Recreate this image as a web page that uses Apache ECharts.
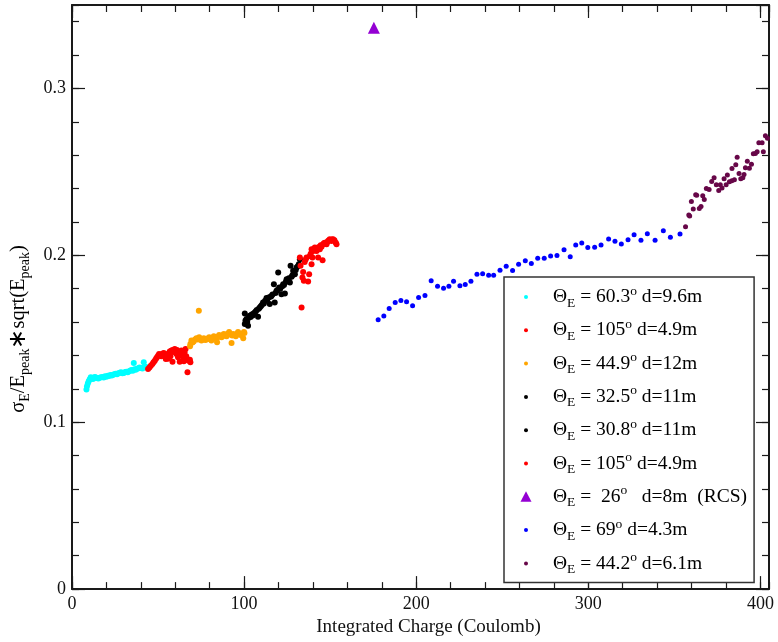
<!DOCTYPE html>
<html><head><meta charset="utf-8">
<script src="https://cdn.jsdelivr.net/npm/echarts@6/dist/echarts.min.js"></script>
<style>html,body{margin:0;padding:0;background:#fff}#c{width:778px;height:642px}</style>
</head><body><div id="c"></div>
<script>
// ---- data ----
const xTickValues = [0, 100, 200, 300, 400];
const yTickValues = [0, 0.1, 0.2, 0.3];
const seriesNames = ['s1','s2','s3','s4','s5','s6','s7','s8','s9'];
const legendLabels = [
  '{m|Θ}{s|E}{m| = 60.3}{p|o}{m| d=9.6m}',
  '{m|Θ}{s|E}{m| = 105}{p|o}{m| d=4.9m}',
  '{m|Θ}{s|E}{m| = 44.9}{p|o}{m| d=12m}',
  '{m|Θ}{s|E}{m| = 32.5}{p|o}{m| d=11m}',
  '{m|Θ}{s|E}{m| = 30.8}{p|o}{m| d=11m}',
  '{m|Θ}{s|E}{m| = 105}{p|o}{m| d=4.9m}',
  '{m|Θ}{s|E}{m| =  26}{p|o}{m|   d=8m  (RCS)}',
  '{m|Θ}{s|E}{m| = 69}{p|o}{m| d=4.3m}',
  '{m|Θ}{s|E}{m| = 44.2}{p|o}{m| d=6.1m}'
];
const theta603 = [[8.4,0.1196],[8.7,0.1216],[9.2,0.1232],[9.7,0.1246],[10.3,0.1258],[10.9,0.1270],[11.5,0.1262],[12.2,0.1259],[12.8,0.1268],[13.4,0.1271],[14.0,0.1266],[14.5,0.1265],[15.3,0.1262],[16.1,0.1267],[16.9,0.1270],[17.7,0.1271],[18.4,0.1268],[19.2,0.1275],[20.0,0.1273],[20.8,0.1279],[21.5,0.1277],[22.3,0.1283],[23.1,0.1280],[23.9,0.1285],[24.6,0.1288],[25.4,0.1291],[26.2,0.1287],[27.0,0.1293],[27.8,0.1296],[28.5,0.1299],[29.3,0.1294],[30.1,0.1295],[30.9,0.1301],[31.6,0.1303],[32.4,0.1300],[33.2,0.1305],[34.0,0.1310],[34.7,0.1313],[35.3,0.1308],[35.9,0.1355],[36.4,0.1318],[37.0,0.1315],[37.8,0.1320],[38.6,0.1323],[39.3,0.1328],[40.1,0.1325],[40.9,0.1322],[41.7,0.1359],[42.0,0.1330],[42.4,0.1329],[43.2,0.1331]];
const theta105a = [[44.2,0.1319],[45.0,0.1328],[45.8,0.1338],[46.7,0.1349],[47.4,0.1360],[48.1,0.1369],[48.8,0.1380],[49.4,0.1389],[50.0,0.1398],[50.6,0.1409],[51.2,0.1402],[51.9,0.1395],[52.5,0.1410],[53.3,0.1415],[53.9,0.1400],[54.5,0.1379],[55.3,0.1402],[55.8,0.1380],[56.0,0.1412],[56.8,0.1423],[57.2,0.1395],[57.6,0.1428],[58.4,0.1433],[58.4,0.1363],[59.1,0.1420],[59.7,0.1439],[60.2,0.1425],[60.7,0.1409],[61.0,0.1432],[61.6,0.1389],[62.1,0.1410],[62.6,0.1419],[62.6,0.1363],[63.1,0.1400],[63.6,0.1429],[64.0,0.1415],[64.4,0.1400],[64.9,0.1385],[65.0,0.1365],[65.4,0.1419],[66.0,0.1439],[66.4,0.1395],[66.7,0.1379],[67.1,0.1299],[67.4,0.1372],[68.0,0.1369],[68.5,0.1375],[68.8,0.1359]];
const theta449 = [[68.6,0.1455],[68.8,0.1469],[69.4,0.1489],[70.0,0.1478],[70.7,0.1483],[71.5,0.1495],[72.3,0.1503],[73.1,0.1495],[73.7,0.1668],[73.9,0.1509],[74.5,0.1498],[75.2,0.1489],[75.9,0.1497],[76.6,0.1503],[77.4,0.1492],[78.1,0.1495],[78.9,0.1502],[79.7,0.1509],[80.4,0.1497],[81.0,0.1489],[81.7,0.1505],[82.4,0.1515],[83.1,0.1500],[83.9,0.1503],[84.3,0.1479],[84.7,0.1512],[85.5,0.1523],[86.2,0.1512],[86.9,0.1509],[87.5,0.1520],[88.2,0.1529],[89.0,0.1518],[89.8,0.1515],[90.5,0.1530],[91.3,0.1541],[92.0,0.1525],[92.7,0.1475],[93.1,0.1520],[93.6,0.1529],[94.4,0.1522],[95.2,0.1515],[95.8,0.1530],[96.5,0.1541],[97.2,0.1532],[97.9,0.1523],[98.6,0.1530],[99.5,0.1503],[99.9,0.1541],[100.2,0.1535]];
const theta325 = [[100.4,0.1588],[100.4,0.1652],[100.8,0.1610],[101.4,0.1618],[101.8,0.1600],[102.3,0.1578],[102.6,0.1625],[103.3,0.1638],[103.8,0.1630],[104.4,0.1645],[105.0,0.1640],[105.5,0.1652],[106.2,0.1658],[106.8,0.1665],[107.4,0.1672],[108.1,0.1632],[108.5,0.1680],[109.1,0.1688],[109.7,0.1695],[110.3,0.1702],[111.0,0.1718],[111.5,0.1712],[112.2,0.1728],[113.0,0.1744],[113.5,0.1735],[114.2,0.1748],[114.9,0.1708],[115.4,0.1752],[115.9,0.1757],[116.5,0.1765]];
const theta308 = [[117.3,0.1827],[117.8,0.1718],[118.3,0.1775],[118.8,0.1787],[119.3,0.1792],[119.8,0.1897],[120.4,0.1807],[121.0,0.1800],[121.7,0.1767],[122.2,0.1815],[122.7,0.1827],[123.2,0.1822],[123.7,0.1771],[124.2,0.1840],[124.7,0.1857],[125.3,0.1850],[126.0,0.1862],[126.6,0.1837],[127.0,0.1937],[127.6,0.1871],[128.1,0.1880],[128.5,0.1907],[129.0,0.1895],[129.5,0.1887],[130.0,0.1912],[130.5,0.1927],[131.2,0.1935],[131.8,0.1947],[132.4,0.1977]];
const theta105b = [[132.4,0.1987],[132.8,0.1937],[133.4,0.1688],[133.9,0.1867],[134.3,0.1900],[134.7,0.1847],[135.2,0.1960],[135.8,0.1975],[136.3,0.1987],[137.2,0.1843],[137.8,0.1887],[138.2,0.1996],[138.7,0.2010],[139.2,0.1947],[139.2,0.2036],[139.7,0.1987],[140.1,0.2026],[140.6,0.2040],[141.1,0.2047],[141.6,0.2030],[142.1,0.2026],[142.6,0.2045],[143.0,0.1987],[143.5,0.2050],[144.0,0.2036],[144.5,0.2060],[145.0,0.2052],[145.6,0.1971],[145.9,0.2066],[146.4,0.2072],[146.9,0.2076],[147.4,0.2070],[147.9,0.2066],[148.3,0.2080],[148.8,0.2086],[149.3,0.2090],[149.8,0.2096],[150.3,0.2092],[150.8,0.2086],[151.2,0.2095],[151.7,0.2096],[152.5,0.2090],[153.3,0.2076],[153.7,0.2066]];
const theta26rcs = [[175.4,0.3363]];
const theta69 = [[177.9,0.1614],[181.2,0.1636],[184.3,0.1682],[187.8,0.1718],[191.1,0.1730],[194.4,0.1722],[197.9,0.1698],[201.4,0.1748],[205.1,0.1760],[208.7,0.1847],[212.4,0.1815],[215.9,0.1803],[219.0,0.1815],[221.7,0.1845],[225.4,0.1817],[228.5,0.1825],[231.8,0.1845],[235.3,0.1887],[238.6,0.1889],[242.1,0.1881],[245.0,0.1881],[248.7,0.1911],[252.3,0.1935],[256.0,0.1909],[259.5,0.1947],[263.4,0.1967],[266.9,0.1951],[270.6,0.1983],[274.4,0.1983],[278.1,0.1996],[281.8,0.1999],[285.9,0.2033],[289.5,0.1991],[292.7,0.2062],[296.2,0.2074],[299.7,0.2047],[303.7,0.2048],[307.4,0.2062],[311.8,0.2098],[315.5,0.2084],[319.2,0.2068],[323.1,0.2094],[326.6,0.2124],[330.6,0.2090],[334.3,0.2130],[338.8,0.2090],[343.6,0.2148],[347.7,0.2108],[353.3,0.2128]];
const theta442 = [[356.5,0.2171],[358.4,0.2242],[358.9,0.2236],[359.9,0.2322],[361.0,0.2277],[362.4,0.2363],[363.0,0.2360],[364.5,0.2280],[365.5,0.2292],[366.5,0.2357],[367.4,0.2335],[368.6,0.2401],[370.2,0.2395],[371.7,0.2443],[373.1,0.2465],[374.4,0.2423],[375.8,0.2389],[376.7,0.2423],[377.7,0.2403],[378.9,0.2459],[380.1,0.2423],[380.8,0.2481],[382.0,0.2441],[383.4,0.2447],[383.5,0.2521],[384.9,0.2453],[385.7,0.2543],[386.5,0.2588],[387.6,0.2491],[388.6,0.2459],[389.8,0.2465],[390.5,0.2485],[391.3,0.2525],[392.4,0.2564],[393.6,0.2522],[394.8,0.2546],[395.9,0.2608],[397.1,0.2610],[398.1,0.2620],[399.1,0.2674],[401.0,0.2674],[401.7,0.2620],[402.9,0.2716],[404.1,0.2702],[405.2,0.2738]];
const seriesData = [theta603, theta105a, theta449, theta325, theta308, theta105b, theta26rcs, theta69, theta442];
const seriesColors = ['#00FFFF','#FF0000','#FFA500','#000000','#000000','#FF0000','#9400D3','#0000FF','#670748'];

// ---- chart ----
const FONT = 'Liberation Serif';
const chart = echarts.init(document.getElementById('c'), null, {renderer: 'canvas'});
const circleIcon = 'path://M0,0M12,12M4,6A2,2,0,1,0,8,6A2,2,0,1,0,4,6Z';
const triIcon = 'path://M0,0M12,12M6,0.5L11.5,11L0.5,11Z';
const frame = {show: true, onZero: false, lineStyle: {color: '#1a1a1a', width: 2}};
function xAx(pos, major) {
  return {type: 'value', min: 0, max: 405, interval: major ? 100 : 20, position: pos,
    axisLine: major ? frame : {show: false, onZero: false},
    axisTick: {show: true, inside: true, length: major ? 13 : 7, lineStyle: {color: '#1a1a1a', width: 1.2}},
    axisLabel: {show: major && pos === 'bottom', margin: 6, showMaxLabel: false, fontFamily: FONT, fontSize: 18, color: '#111'},
    splitLine: {show: false},
    name: (major && pos === 'bottom') ? 'Integrated Charge (Coulomb)' : '',
    nameLocation: 'middle', nameGap: 26,
    nameTextStyle: {fontFamily: FONT, fontSize: 19, color: '#111', padding: [0, 0, 0, 16]}};
}
function yAx(pos, major) {
  return {type: 'value', min: 0, max: 0.35, interval: major ? 0.1 : 0.02, position: pos,
    axisLine: major ? frame : {show: false, onZero: false},
    axisTick: {show: true, inside: true, length: major ? 13 : 7, lineStyle: {color: '#1a1a1a', width: 1.2}},
    axisLabel: {show: major && pos === 'left', margin: 6, showMaxLabel: false, fontFamily: FONT, fontSize: 18, color: '#111',
      formatter: v => v === 0 ? '0' : v.toFixed(1)},
    splitLine: {show: false}};
}
const series = seriesNames.map((n, i) => ({
  name: n, type: 'scatter', xAxisIndex: 0, yAxisIndex: 0,
  data: seriesData[i],
  symbol: i === 6 ? 'triangle' : 'circle',
  symbolSize: i === 6 ? 12 : (i >= 7 ? 5 : 6),
  itemStyle: {color: seriesColors[i], opacity: 1},
  emphasis: {disabled: true},
  clip: true
}));
const richLegend = {
  m: {fontFamily: FONT, fontSize: 19.5, lineHeight: 26, color: '#000'},
  s: {fontFamily: FONT, fontSize: 13.5, lineHeight: 7, verticalAlign: 'bottom', color: '#000'},
  p: {fontFamily: FONT, fontSize: 13.5, lineHeight: 17, verticalAlign: 'top', color: '#000'}
};
chart.setOption({
  animation: false,
  backgroundColor: '#fff',
  grid: {left: 72, right: 9, top: 5, bottom: 51, containLabel: false},
  xAxis: [xAx('bottom', true), xAx('bottom', false), xAx('top', true), xAx('top', false)],
  yAxis: [yAx('left', true), yAx('left', false), yAx('right', true), yAx('right', false)],
  legend: {
    orient: 'vertical', left: 504, top: 277,
    padding: [7, 7, 6, 16], itemGap: 7.3, itemWidth: 44, itemHeight: 12,
    backgroundColor: '#fff', borderColor: '#333', borderWidth: 1.5,
    selectedMode: false,
    formatter: name => legendLabels[seriesNames.indexOf(name)],
    textStyle: {rich: richLegend, fontFamily: FONT, fontSize: 19, color: '#000'},
    data: seriesNames.map((n, i) => ({name: n, icon: i === 6 ? triIcon : circleIcon}))
  },
  graphic: [{
    type: 'text', x: 19, y: 329, rotation: Math.PI / 2,
    style: {
      text: '{m|σ}{s|E}{m|/E}{s|peak}{a|∗}{m|sqrt(E}{s|peak}{m|)}',
      align: 'center', verticalAlign: 'middle',
      rich: {
        m: {fontFamily: FONT, fontSize: 20.5, lineHeight: 26, fill: '#000'},
        s: {fontFamily: FONT, fontSize: 14, lineHeight: 7, verticalAlign: 'bottom', fill: '#000'},
        a: {fontFamily: FONT, fontSize: 24, lineHeight: 26, fill: '#000'}
      }
    }
  }],
  series: series
});
</script></body></html>
